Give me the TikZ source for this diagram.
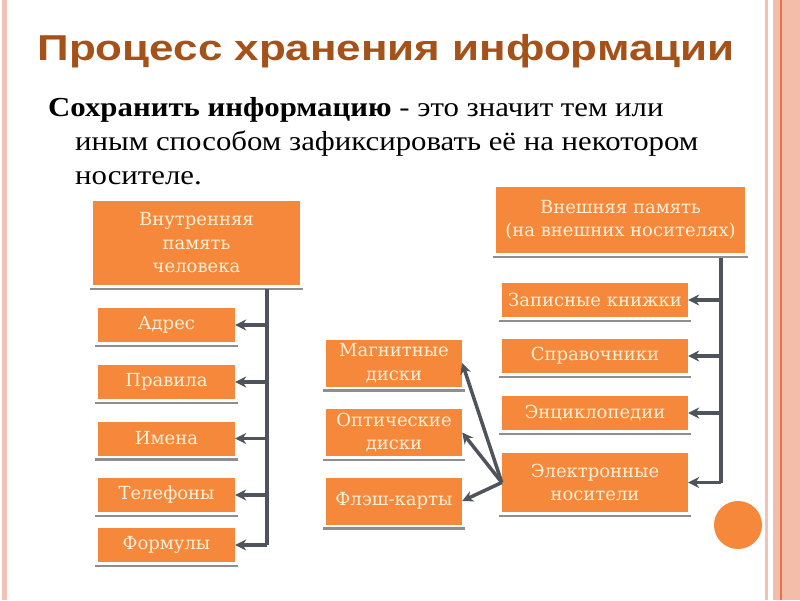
\documentclass[tikz,border=0pt]{standalone}
\usepackage{fontspec}
\setmainfont{Liberation Serif}
\newfontfamily\titlefont[FakeStretch=1.22]{Liberation Sans}
\newfontfamily\deffont[FakeStretch=1.12]{Liberation Serif}
\newfontfamily\boxfont{DejaVu Serif}
\usetikzlibrary{arrows.meta}
\definecolor{boxorange}{HTML}{F5883A}
\definecolor{boxtext}{HTML}{FFF0D8}
\definecolor{titlebrown}{HTML}{A4521A}
\definecolor{linegray}{HTML}{4E535C}
\definecolor{shadowgray}{HTML}{8E8E8E}
\definecolor{pinkline}{HTML}{F3C2B6}
\definecolor{bandpink}{HTML}{F2BDA9}
\definecolor{banddark}{HTML}{E6704A}
\begin{document}
\begin{tikzpicture}[
		x=1pt, y=-1pt,
		title/.style={font=\titlefont\bfseries\fontsize{36}{40}\selectfont, text=titlebrown, inner sep=0pt},
		deftext/.style={font=\deffont\fontsize{27.5}{34}\selectfont, align=left, inner sep=0pt},
		box/.style={fill=boxorange, text=boxtext, font=\boxfont\fontsize{18}{23.5}\selectfont, align=center, inner sep=0pt},
		smallbox/.style={box, minimum width=137pt, minimum height=34pt},
		midbox/.style={box, minimum width=136pt, minimum height=47pt},
		rightbox/.style={box, minimum width=186pt, minimum height=34pt},
		shadowline/.style={draw=shadowgray, line width=2.5pt},
		trunk/.style={draw=linegray, line width=4pt},
		arr/.style={draw=linegray, line width=3.5pt, -{Stealth[length=11pt,width=11pt]}}
		]
		
		% Page and side stripes
		\useasboundingbox (0,0) rectangle (800,600);
		\fill[white] (0,0) rectangle (800,600);
		\fill[pinkline] (2,0) rectangle (7,600);
		\fill[pinkline] (765,0) rectangle (768,600);
		\fill[bandpink] (773,0) rectangle (800,600);
		\fill[banddark] (780,0) rectangle (781.5,600);
		
		% Title and definition
		\node[title] (head) at (386,51) {Процесс хранения информации};
		\node[deftext, anchor=north west] (def) at (48,97) {\textbf{Сохранить информацию} - это значит тем или\\
			\hspace*{27pt}иным способом зафиксировать её на некотором\\
			\hspace*{27pt}носителе.};
		
		% Inner memory
		\node[box, minimum width=207pt, minimum height=84pt] (inner) at (196.5,243) {Внутренняя\\память\\человека};
		\node[smallbox] (addr) at (166.5,325) {Адрес};
		\node[smallbox] (rules) at (166.5,382) {Правила};
		\node[smallbox] (names) at (166.5,438.5) {Имена};
		\node[smallbox] (phones) at (166.5,495) {Телефоны};
		\node[smallbox] (formulas) at (166.5,545) {Формулы};
		
		% Outer memory
		\node[box, minimum width=249pt, minimum height=66pt] (outer) at (620.5,220) {Внешняя память\\(на внешних носителях)};
		\node[rightbox] (notes) at (595,300) {Записные книжки};
		\node[rightbox] (refs) at (595,356) {Справочники};
		\node[rightbox] (encyc) at (595,413) {Энциклопедии};
		\node[rightbox, minimum height=59pt] (elec) at (595,482.5) {Электронные\\носители};
		
		% Media
		\node[midbox] (magnet) at (394,363) {Магнитные\\диски};
		\node[midbox] (optic) at (394,432.5) {Оптические\\диски};
		\node[midbox] (flash) at (394,501) {Флэш-карты};
		
		% Gray lines under the boxes
		\foreach \n in {inner, addr, rules, names, phones, formulas, outer, notes, refs, encyc, elec, magnet, optic, flash} {
			\draw[shadowline] ([xshift=-3pt,yshift=-4pt]\n.south west) -- ([xshift=3pt,yshift=-4pt]\n.south east);
		}
		
		% Left tree
		\coordinate (ltop) at (267,289);
		\coordinate (lbot) at (267,545);
		\draw[trunk] (ltop) -- (lbot);
		\foreach \n in {addr, rules, names, phones, formulas} {
			\draw[arr] (ltop |- \n.east) -- (\n.east);
		}
		
		% Right tree
		\coordinate (rtop) at (721,258);
		\coordinate (rbot) at (721,482.5);
		\draw[trunk] (rtop) -- (rbot);
		\foreach \n in {notes, refs, encyc, elec} {
			\draw[arr] (rtop |- \n.east) -- (\n.east);
		}
		
		% Electronic media
		\foreach \n in {magnet, optic, flash} {
			\draw[arr] (elec.west) -- (\n.east);
		}
		
		% Decoration
		\node[circle, fill=boxorange, minimum size=48pt, inner sep=0pt] (dot) at (738,525) {};
		
	\end{tikzpicture}
\end{document}
